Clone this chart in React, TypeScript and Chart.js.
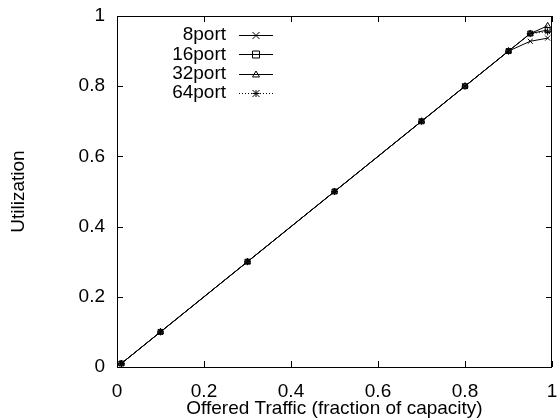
import React, { useEffect, useRef } from "react";
import { Chart, registerables } from "chart.js";

Chart.register(...registerables);

const offeredTraffic = [0.01, 0.1, 0.3, 0.5, 0.7, 0.8, 0.9, 0.95, 0.99];
const port8 = [0.01, 0.1, 0.3, 0.5, 0.7, 0.8, 0.9, 0.928, 0.937];
const port16 = [0.01, 0.1, 0.3, 0.5, 0.7, 0.8, 0.9, 0.95, 0.96];
const port32 = [0.01, 0.1, 0.3, 0.5, 0.7, 0.8, 0.9, 0.95, 0.972];
const port64 = [0.01, 0.1, 0.3, 0.5, 0.7, 0.8, 0.9, 0.95, 0.955];
const seriesNames = ["8port", "16port", "32port", "64port"];
const xTicks = [0, 0.2, 0.4, 0.6, 0.8, 1];
const yTicks = [0, 0.2, 0.4, 0.6, 0.8, 1];

const FONT = "'Liberation Sans', Arial, Helvetica, sans-serif";
const FS = 19;

const pts = (ys: number[]) => offeredTraffic.map((x, i) => ({ x, y: ys[i] }));

const frameAndLegend = {
  id: "frameAndLegend",
  afterDatasetsDraw(chart: any) {
    const { ctx, chartArea: a, scales } = chart;
    const xs = scales.x;
    const ys = scales.y;
    ctx.save();
    ctx.strokeStyle = "#000";
    ctx.lineWidth = 1;
    ctx.strokeRect(a.left + 0.5, a.top + 0.5, a.right - a.left - 1, a.bottom - a.top);
    const tl = 6;
    ctx.beginPath();
    xTicks.forEach((v) => {
      const px = Math.round(xs.getPixelForValue(v)) + 0.5;
      ctx.moveTo(px, a.bottom);
      ctx.lineTo(px, a.bottom - tl);
      ctx.moveTo(px, a.top);
      ctx.lineTo(px, a.top + tl);
    });
    yTicks.forEach((v) => {
      const py = Math.round(ys.getPixelForValue(v)) + 0.5;
      ctx.moveTo(a.left, py);
      ctx.lineTo(a.left + tl, py);
      ctx.moveTo(a.right, py);
      ctx.lineTo(a.right - tl, py);
    });
    ctx.stroke();

    // legend (gnuplot style)
    const dsets = chart.data.datasets;
    ctx.font = `${FS}px ${FONT}`;
    ctx.fillStyle = "#000";
    ctx.textAlign = "right";
    ctx.textBaseline = "middle";
    dsets.forEach((ds: any, i: number) => {
      const y = 35 + i * 19.3;
      ctx.fillText(ds.label, 226, y);
      ctx.beginPath();
      ctx.setLineDash(ds.borderDash || []);
      ctx.moveTo(239, Math.round(y) + 0.5);
      ctx.lineTo(273, Math.round(y) + 0.5);
      ctx.stroke();
      ctx.setLineDash([]);
    });
    ctx.restore();
  },
};

export default function App() {
  const ref = useRef<HTMLCanvasElement>(null);
  useEffect(() => {
    document.body.style.margin = "0";
    const mk = (label: string, data: number[], style: string, dash: number[]) => ({
      label,
      data: pts(data),
      borderColor: "#000",
      backgroundColor: "rgba(0,0,0,0)",
      borderWidth: 1,
      borderDash: dash,
      pointStyle: style,
      pointRadius: 3.5,
      pointBorderColor: "#000",
      pointBackgroundColor: "rgba(0,0,0,0)",
      pointBorderWidth: 1,
      tension: 0,
    });
    const chart = new Chart(ref.current!, {
      type: "line",
      data: {
        datasets: [
          mk(seriesNames[0], port8, "crossRot", []),
          mk(seriesNames[1], port16, "rect", []),
          mk(seriesNames[2], port32, "triangle", []),
          mk(seriesNames[3], port64, "star", [1, 2]),
        ],
      },
      options: {
        responsive: false,
        animation: false,
        layout: { padding: { top: 16, right: 2, left: 0, bottom: 0 } },
        plugins: {
          legend: { display: false },
          tooltip: { enabled: false },
        },
        scales: {
          x: {
            type: "linear",
            min: 0,
            max: 1,
            afterBuildTicks: (s: any) => {
              s.ticks = xTicks.map((v) => ({ value: v }));
            },
            afterFit: (s: any) => {
              s.height = 51;
              s.paddingLeft = 0;
              s.paddingRight = 0;
            },
            grid: { display: false, drawTicks: false },
            border: { display: false },
            ticks: {
              color: "#000",
              font: { family: FONT, size: FS },
              padding: 13,
              maxRotation: 0,
              autoSkip: false,
              callback: (v: any) => String(v),
            },
            title: {
              display: true,
              text: "Offered Traffic (fraction of capacity)",
              color: "#000",
              font: { family: FONT, size: FS },
              padding: { top: 0, bottom: -2 },
            },
          },
          y: {
            type: "linear",
            min: 0,
            max: 1,
            afterBuildTicks: (s: any) => {
              s.ticks = yTicks.map((v) => ({ value: v }));
            },
            afterFit: (s: any) => {
              s.width = 117;
              s.paddingTop = 0;
              s.paddingBottom = 0;
            },
            grid: { display: false, drawTicks: false },
            border: { display: false },
            ticks: {
              color: "#000",
              font: { family: FONT, size: FS },
              padding: 12,
              autoSkip: false,
              callback: (v: any) => String(v),
            },
            title: {
              display: true,
              text: "Utilization",
              color: "#000",
              font: { family: FONT, size: FS },
              padding: { top: 7, bottom: 0 },
            },
          },
        },
      },
      plugins: [
        frameAndLegend,
        {
          id: "legendMarkers",
          afterDraw(chart: any) {
            const ctx = chart.ctx;
            chart.data.datasets.forEach((ds: any, i: number) => {
              const y = Math.round(35 + i * 19.3) + 0.5;
              const x = 256;
              const r = 3.5;
              ctx.save();
              ctx.strokeStyle = "#000";
              ctx.lineWidth = 1;
              ctx.beginPath();
              if (ds.pointStyle === "rect") {
                ctx.rect(x - r, y - r, 2 * r, 2 * r);
              } else if (ds.pointStyle === "triangle") {
                ctx.moveTo(x, y - r);
                ctx.lineTo(x + r, y + r * 0.7);
                ctx.lineTo(x - r, y + r * 0.7);
                ctx.closePath();
              } else {
                ctx.moveTo(x - r, y - r);
                ctx.lineTo(x + r, y + r);
                ctx.moveTo(x + r, y - r);
                ctx.lineTo(x - r, y + r);
                if (ds.pointStyle === "star") {
                  ctx.moveTo(x - r, y);
                  ctx.lineTo(x + r, y);
                  ctx.moveTo(x, y - r);
                  ctx.lineTo(x, y + r);
                }
              }
              ctx.stroke();
              ctx.restore();
            });
          },
        },
      ],
    });
    return () => chart.destroy();
  }, []);
  return (
    <div style={{ position: "absolute", left: 0, top: 0, width: 557, height: 418 }}>
      <canvas ref={ref} width={557} height={418} style={{ display: "block" }} />
    </div>
  );
}
